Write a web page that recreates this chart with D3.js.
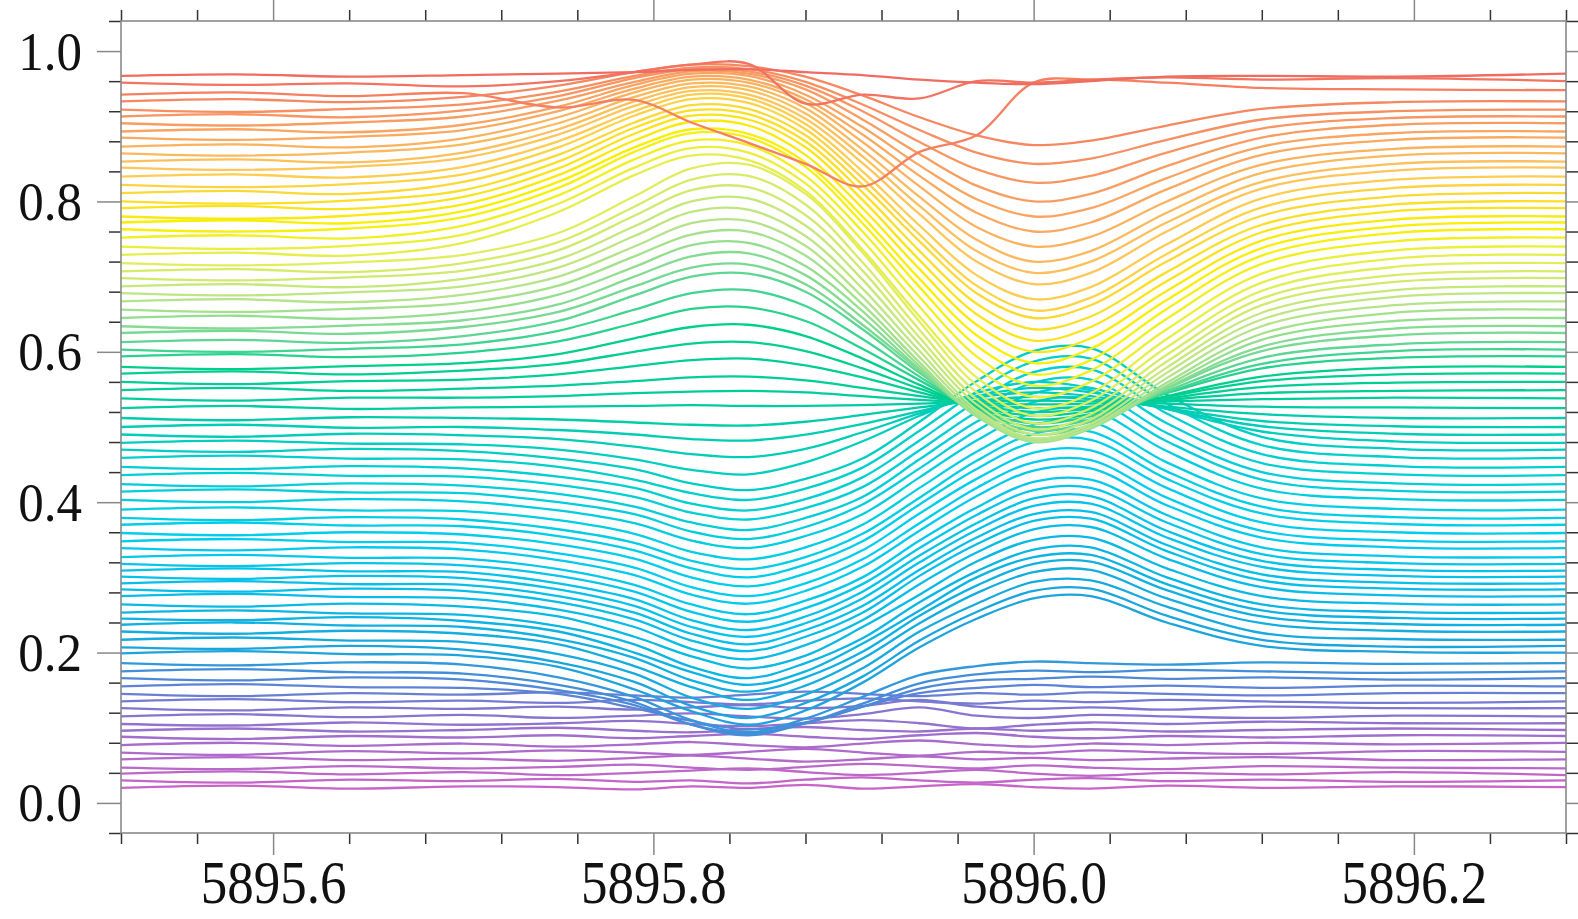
<!DOCTYPE html>
<html>
<head>
<meta charset="utf-8">
<script src="https://cdn.jsdelivr.net/npm/d3@7"></script>
<style>
  html, body { margin: 0; padding: 0; background: #fff; }
  svg { display: block; }
</style>
</head>
<body>
<svg id="chart" width="1578" height="919"></svg>
<script>
const waves = [5895.52, 5895.58, 5895.64, 5895.70, 5895.75, 5895.79, 5895.82, 5895.85, 5895.88,
               5895.91, 5895.94, 5895.97, 5896.00, 5896.03, 5896.07, 5896.12, 5896.19, 5896.28];

const xMajorTicks = [5895.6, 5895.8, 5896.0, 5896.2];
const xMinorTicks = [5895.52, 5895.56, 5895.64, 5895.68, 5895.72, 5895.76, 5895.84, 5895.88, 5895.92,
                     5895.96, 5896.04, 5896.08, 5896.12, 5896.16, 5896.24, 5896.28];
const yMajorTicks = [0, 0.2, 0.4, 0.6, 0.8, 1.0];
const yMinorTicks = [-0.04, 0.04, 0.08, 0.12, 0.16, 0.24, 0.28, 0.32, 0.36, 0.44, 0.48, 0.52, 0.56,
                     0.64, 0.68, 0.72, 0.76, 0.84, 0.88, 0.92, 0.96, 1.04];

// stacked spectra, bottom (purple) to top (red)
const purpleSpectra = [
  [0.020,0.023,0.019,0.022,0.021,0.018,0.022,0.020,0.024,0.019,0.022,0.025,0.021,0.019,0.023,0.020,0.022,0.021],
  [0.030,0.027,0.031,0.029,0.032,0.028,0.030,0.026,0.031,0.034,0.030,0.027,0.031,0.033,0.029,0.031,0.028,0.030],
  [0.039,0.042,0.038,0.041,0.037,0.040,0.043,0.046,0.041,0.037,0.040,0.044,0.039,0.036,0.040,0.038,0.041,0.037],
  [0.047,0.045,0.049,0.046,0.048,0.051,0.047,0.044,0.048,0.052,0.049,0.046,0.050,0.047,0.045,0.049,0.047,0.046],
  [0.058,0.061,0.057,0.059,0.056,0.060,0.063,0.059,0.055,0.058,0.062,0.058,0.060,0.057,0.059,0.061,0.057,0.058],
  [0.067,0.064,0.069,0.066,0.070,0.067,0.064,0.068,0.072,0.067,0.063,0.068,0.066,0.070,0.067,0.065,0.069,0.068],
  [0.077,0.080,0.076,0.079,0.075,0.078,0.081,0.077,0.074,0.079,0.083,0.078,0.075,0.079,0.077,0.080,0.078,0.080],
  [0.088,0.085,0.089,0.087,0.090,0.086,0.089,0.092,0.088,0.085,0.090,0.093,0.088,0.086,0.089,0.087,0.090,0.089],
  [0.096,0.099,0.095,0.097,0.100,0.096,0.094,0.098,0.101,0.097,0.095,0.099,0.096,0.098,0.095,0.097,0.099,0.097],
  [0.105,0.103,0.107,0.104,0.106,0.109,0.105,0.102,0.106,0.110,0.106,0.099,0.104,0.107,0.105,0.108,0.106,0.106],
  [0.115,0.118,0.114,0.117,0.113,0.116,0.119,0.115,0.112,0.118,0.127,0.116,0.113,0.117,0.115,0.113,0.116,0.115],
  [0.126,0.123,0.127,0.125,0.128,0.124,0.127,0.130,0.126,0.129,0.137,0.128,0.125,0.127,0.124,0.128,0.126,0.126],
  [0.135,0.138,0.134,0.136,0.133,0.137,0.134,0.131,0.136,0.139,0.135,0.132,0.136,0.134,0.137,0.135,0.133,0.135],
  [0.145,0.142,0.146,0.144,0.147,0.143,0.140,0.144,0.148,0.145,0.142,0.146,0.144,0.147,0.145,0.143,0.146,0.146]
];

const blueSpectra = [
  [0.155,0.158,0.154,0.153,0.145,0.126,0.109,0.098,0.107,0.128,0.146,0.153,0.157,0.154,0.156,0.153,0.156,0.155],
  [0.166,0.163,0.167,0.164,0.150,0.130,0.104,0.092,0.106,0.128,0.152,0.163,0.165,0.168,0.165,0.167,0.164,0.166],
  [0.175,0.178,0.174,0.172,0.157,0.134,0.104,0.090,0.106,0.132,0.159,0.171,0.176,0.174,0.177,0.175,0.173,0.175],
  [0.186,0.183,0.187,0.184,0.167,0.141,0.110,0.094,0.112,0.141,0.170,0.182,0.188,0.186,0.184,0.187,0.185,0.186]
];

const cyanSpectra = [
  [0.199,0.202,0.198,0.196,0.181,0.151,0.122,0.104,0.123,0.160,0.207,0.245,0.272,0.275,0.240,0.209,0.201,0.200],
  [0.207,0.205,0.209,0.204,0.187,0.161,0.129,0.113,0.133,0.168,0.216,0.254,0.282,0.285,0.249,0.217,0.208,0.209],
  [0.217,0.220,0.216,0.214,0.198,0.172,0.140,0.125,0.144,0.179,0.228,0.265,0.294,0.296,0.261,0.226,0.218,0.217],
  [0.228,0.225,0.229,0.225,0.211,0.182,0.154,0.137,0.156,0.192,0.239,0.279,0.307,0.310,0.272,0.239,0.229,0.228],
  [0.237,0.240,0.236,0.234,0.218,0.193,0.163,0.148,0.167,0.201,0.249,0.289,0.318,0.321,0.283,0.248,0.238,0.237],
  [0.245,0.243,0.247,0.242,0.228,0.200,0.174,0.157,0.175,0.212,0.256,0.300,0.327,0.330,0.291,0.256,0.246,0.245],
  [0.253,0.256,0.252,0.250,0.235,0.211,0.181,0.166,0.186,0.219,0.267,0.308,0.337,0.340,0.300,0.264,0.254,0.253],
  [0.264,0.261,0.265,0.261,0.248,0.221,0.195,0.179,0.196,0.234,0.277,0.321,0.350,0.353,0.312,0.275,0.265,0.264],
  [0.275,0.278,0.274,0.272,0.257,0.234,0.205,0.191,0.210,0.243,0.291,0.333,0.364,0.367,0.325,0.287,0.276,0.275],
  [0.284,0.281,0.285,0.282,0.267,0.244,0.216,0.202,0.221,0.253,0.302,0.344,0.375,0.378,0.335,0.296,0.285,0.284],
  [0.292,0.295,0.291,0.290,0.275,0.253,0.225,0.211,0.230,0.262,0.310,0.353,0.384,0.387,0.343,0.304,0.293,0.292],
  [0.301,0.298,0.302,0.299,0.284,0.262,0.234,0.221,0.239,0.272,0.320,0.363,0.395,0.398,0.353,0.314,0.302,0.301],
  [0.309,0.312,0.308,0.307,0.292,0.271,0.243,0.230,0.248,0.281,0.329,0.372,0.405,0.408,0.362,0.322,0.310,0.309],
  [0.318,0.315,0.319,0.316,0.302,0.281,0.254,0.241,0.259,0.291,0.339,0.383,0.416,0.419,0.373,0.331,0.319,0.318],
  [0.327,0.330,0.326,0.325,0.311,0.290,0.264,0.251,0.269,0.300,0.349,0.393,0.427,0.430,0.383,0.340,0.328,0.327],
  [0.339,0.336,0.340,0.337,0.323,0.303,0.277,0.265,0.282,0.314,0.362,0.408,0.442,0.445,0.396,0.353,0.340,0.339],
  [0.348,0.351,0.347,0.346,0.332,0.313,0.287,0.275,0.292,0.324,0.372,0.419,0.453,0.456,0.406,0.362,0.349,0.348],
  [0.359,0.356,0.360,0.357,0.344,0.325,0.300,0.288,0.305,0.336,0.385,0.431,0.466,0.469,0.419,0.373,0.360,0.359],
  [0.370,0.373,0.369,0.368,0.355,0.336,0.312,0.300,0.317,0.348,0.397,0.444,0.480,0.483,0.431,0.385,0.371,0.370],
  [0.379,0.376,0.380,0.377,0.364,0.346,0.322,0.311,0.327,0.358,0.406,0.455,0.491,0.494,0.441,0.394,0.380,0.379],
  [0.390,0.393,0.389,0.388,0.376,0.358,0.334,0.324,0.340,0.370,0.419,0.467,0.503,0.507,0.453,0.405,0.391,0.390],
  [0.403,0.400,0.404,0.401,0.389,0.372,0.349,0.339,0.355,0.384,0.433,0.482,0.519,0.523,0.468,0.418,0.404,0.403],
  [0.414,0.417,0.413,0.412,0.400,0.384,0.361,0.351,0.367,0.397,0.445,0.495,0.533,0.537,0.481,0.430,0.415,0.414],
  [0.424,0.421,0.425,0.422,0.411,0.394,0.373,0.363,0.379,0.407,0.457,0.507,0.545,0.549,0.492,0.440,0.425,0.424],
  [0.436,0.439,0.435,0.434,0.423,0.407,0.386,0.377,0.392,0.420,0.469,0.520,0.559,0.563,0.505,0.452,0.437,0.436],
  [0.447,0.444,0.448,0.445,0.434,0.419,0.398,0.389,0.404,0.433,0.482,0.534,0.573,0.577,0.518,0.464,0.448,0.447],
  [0.459,0.462,0.458,0.457,0.447,0.430,0.412,0.403,0.418,0.446,0.495,0.547,0.587,0.591,0.531,0.476,0.460,0.459],
  [0.470,0.467,0.471,0.468,0.458,0.444,0.425,0.416,0.431,0.458,0.507,0.561,0.601,0.605,0.543,0.487,0.471,0.470]
];

const greenSpectra = [
  [0.479,0.482,0.478,0.477,0.470,0.457,0.443,0.437,0.453,0.481,0.515,0.545,0.560,0.552,0.524,0.494,0.481,0.479],
  [0.490,0.487,0.491,0.489,0.484,0.474,0.464,0.460,0.471,0.493,0.518,0.541,0.552,0.546,0.524,0.501,0.491,0.490],
  [0.500,0.503,0.499,0.500,0.496,0.490,0.484,0.482,0.490,0.504,0.521,0.539,0.546,0.541,0.525,0.508,0.501,0.500],
  [0.512,0.509,0.513,0.512,0.510,0.506,0.503,0.502,0.507,0.516,0.526,0.535,0.540,0.537,0.527,0.517,0.512,0.512],
  [0.525,0.528,0.524,0.526,0.527,0.528,0.529,0.528,0.528,0.529,0.531,0.534,0.535,0.534,0.531,0.527,0.526,0.525],
  [0.538,0.535,0.539,0.539,0.541,0.545,0.547,0.548,0.546,0.541,0.536,0.532,0.530,0.531,0.534,0.537,0.539,0.538],
  [0.549,0.552,0.548,0.551,0.555,0.561,0.566,0.567,0.562,0.552,0.541,0.531,0.525,0.527,0.536,0.545,0.548,0.549],
  [0.560,0.557,0.561,0.563,0.570,0.581,0.589,0.591,0.582,0.566,0.546,0.529,0.520,0.524,0.538,0.553,0.559,0.560],
  [0.571,0.574,0.570,0.575,0.584,0.600,0.611,0.613,0.601,0.578,0.551,0.527,0.515,0.521,0.540,0.561,0.570,0.571],
  [0.580,0.577,0.581,0.585,0.597,0.618,0.633,0.636,0.621,0.591,0.556,0.525,0.510,0.517,0.541,0.567,0.579,0.580],
  [0.594,0.597,0.593,0.599,0.614,0.638,0.657,0.659,0.641,0.604,0.562,0.523,0.505,0.514,0.545,0.578,0.592,0.594],
  [0.603,0.600,0.604,0.610,0.628,0.656,0.678,0.682,0.661,0.617,0.567,0.522,0.500,0.510,0.546,0.584,0.601,0.603],
  [0.613,0.616,0.612,0.621,0.641,0.675,0.700,0.704,0.680,0.630,0.572,0.521,0.495,0.507,0.548,0.592,0.610,0.613]
];

const limeSpectra = [
  [0.625,0.628,0.624,0.633,0.653,0.687,0.712,0.716,0.690,0.636,0.575,0.518,0.490,0.503,0.551,0.601,0.622,0.625],
  [0.634,0.631,0.635,0.642,0.663,0.700,0.727,0.731,0.702,0.645,0.577,0.515,0.485,0.500,0.552,0.607,0.631,0.634],
  [0.645,0.648,0.644,0.653,0.676,0.713,0.742,0.745,0.714,0.654,0.581,0.514,0.482,0.498,0.555,0.616,0.641,0.645],
  [0.656,0.653,0.657,0.665,0.688,0.727,0.756,0.760,0.728,0.663,0.586,0.515,0.480,0.498,0.559,0.624,0.652,0.656],
  [0.667,0.670,0.666,0.676,0.700,0.740,0.771,0.774,0.741,0.673,0.593,0.519,0.482,0.500,0.565,0.634,0.662,0.667],
  [0.678,0.675,0.679,0.687,0.712,0.754,0.786,0.789,0.754,0.684,0.601,0.523,0.485,0.504,0.572,0.643,0.673,0.678],
  [0.687,0.690,0.686,0.697,0.723,0.767,0.800,0.804,0.768,0.696,0.610,0.530,0.490,0.510,0.579,0.652,0.682,0.687],
  [0.698,0.695,0.699,0.708,0.735,0.781,0.815,0.819,0.782,0.708,0.619,0.537,0.497,0.517,0.587,0.662,0.693,0.698],
  [0.707,0.710,0.706,0.718,0.746,0.793,0.829,0.834,0.796,0.719,0.629,0.546,0.505,0.525,0.596,0.671,0.702,0.707],
  [0.718,0.715,0.719,0.729,0.758,0.807,0.844,0.849,0.810,0.732,0.640,0.556,0.515,0.535,0.606,0.681,0.713,0.718]
];

const yellowSpectra = [
  [0.729,0.732,0.728,0.745,0.786,0.835,0.861,0.855,0.814,0.736,0.647,0.566,0.525,0.545,0.617,0.692,0.724,0.729],
  [0.740,0.737,0.741,0.756,0.797,0.845,0.871,0.865,0.824,0.748,0.660,0.579,0.540,0.560,0.630,0.704,0.735,0.740],
  [0.752,0.755,0.751,0.768,0.808,0.856,0.881,0.875,0.834,0.760,0.673,0.594,0.555,0.575,0.644,0.717,0.747,0.752],
  [0.763,0.760,0.764,0.779,0.818,0.866,0.891,0.885,0.846,0.771,0.686,0.608,0.570,0.589,0.657,0.728,0.758,0.763],
  [0.772,0.775,0.771,0.787,0.826,0.872,0.896,0.890,0.852,0.780,0.697,0.622,0.585,0.604,0.669,0.738,0.767,0.772],
  [0.780,0.777,0.781,0.796,0.835,0.881,0.906,0.901,0.862,0.791,0.710,0.636,0.600,0.618,0.681,0.748,0.776,0.780],
  [0.791,0.794,0.790,0.806,0.844,0.890,0.914,0.909,0.872,0.802,0.722,0.650,0.615,0.633,0.694,0.759,0.787,0.791],
  [0.800,0.797,0.801,0.815,0.853,0.898,0.921,0.916,0.880,0.812,0.734,0.664,0.630,0.647,0.706,0.769,0.796,0.800],
  [0.811,0.814,0.810,0.826,0.862,0.905,0.928,0.923,0.888,0.822,0.747,0.678,0.645,0.662,0.720,0.781,0.807,0.811],
  [0.822,0.819,0.823,0.836,0.872,0.914,0.936,0.931,0.896,0.831,0.756,0.688,0.655,0.672,0.730,0.792,0.818,0.822]
];

const orangeSpectra = [
  [0.833,0.836,0.832,0.846,0.880,0.920,0.942,0.937,0.903,0.840,0.768,0.702,0.670,0.686,0.743,0.804,0.829,0.833],
  [0.845,0.842,0.846,0.858,0.889,0.927,0.947,0.942,0.910,0.851,0.783,0.720,0.690,0.705,0.760,0.817,0.841,0.845],
  [0.853,0.856,0.852,0.865,0.896,0.933,0.952,0.948,0.917,0.860,0.794,0.734,0.705,0.720,0.772,0.826,0.850,0.853],
  [0.864,0.861,0.865,0.876,0.904,0.939,0.957,0.953,0.924,0.869,0.806,0.749,0.720,0.734,0.785,0.838,0.861,0.864],
  [0.873,0.876,0.872,0.884,0.912,0.945,0.962,0.958,0.931,0.879,0.820,0.766,0.740,0.753,0.800,0.849,0.870,0.873],
  [0.885,0.882,0.886,0.895,0.920,0.950,0.966,0.962,0.936,0.889,0.834,0.785,0.760,0.772,0.816,0.862,0.882,0.885],
  [0.893,0.896,0.892,0.902,0.926,0.955,0.970,0.967,0.942,0.899,0.848,0.803,0.780,0.791,0.831,0.873,0.891,0.893],
  [0.904,0.901,0.905,0.913,0.934,0.959,0.973,0.970,0.949,0.909,0.863,0.821,0.800,0.810,0.847,0.885,0.902,0.904],
  [0.913,0.916,0.912,0.921,0.940,0.964,0.976,0.973,0.954,0.920,0.879,0.843,0.825,0.834,0.865,0.897,0.911,0.913],
  [0.922,0.919,0.923,0.929,0.946,0.967,0.978,0.976,0.959,0.929,0.895,0.865,0.850,0.857,0.882,0.909,0.920,0.922],
  [0.933,0.936,0.932,0.939,0.954,0.972,0.982,0.980,0.966,0.941,0.912,0.888,0.875,0.881,0.901,0.923,0.932,0.933]
];

const redSpectra = [
  [0.942,0.945,0.940,0.944,0.925,0.935,0.905,0.878,0.850,0.820,0.866,0.888,0.958,0.962,0.958,0.951,0.949,0.948],
  [0.958,0.955,0.957,0.953,0.960,0.972,0.982,0.983,0.930,0.942,0.937,0.960,0.958,0.962,0.965,0.962,0.964,0.960],
  [0.967,0.969,0.966,0.968,0.970,0.972,0.975,0.976,0.972,0.968,0.962,0.958,0.956,0.960,0.966,0.967,0.966,0.970]
];

// colour ramp keyed on each spectrum's continuum level
const colourLevels = [0.02, 0.08, 0.13, 0.17, 0.20, 0.26, 0.35, 0.45, 0.52, 0.58, 0.62, 0.67, 0.72, 0.77, 0.84, 0.90, 0.97];
const colourRamp = ['#c864c8', '#a86ccc', '#7c78d2', '#4a8ad8', '#1ca4dc', '#08b8e4', '#00cdee', '#00cfd0',
                    '#00cca6', '#00cf8c', '#70d894', '#b8e48a', '#e2ee5c', '#f8f000', '#fcc95a', '#f9a062', '#f06a60'];

const svg = d3.select('#chart');
const frame = { left: 121, right: 1566, top: 21, bottom: 833 };

const x = d3.scaleLinear().domain([5895.52, 5896.28]).range([frame.left, frame.right]);
const y = d3.scaleLinear().domain([-0.04, 1.04]).range([frame.bottom, frame.top]);
const colour = d3.scaleLinear().domain(colourLevels).range(colourRamp).interpolate(d3.interpolateRgb).clamp(true);

svg.append('defs').append('clipPath').attr('id', 'plot-clip')
  .append('rect')
  .attr('x', frame.left).attr('y', frame.top)
  .attr('width', frame.right - frame.left).attr('height', frame.bottom - frame.top);

const spectra = [].concat(purpleSpectra, blueSpectra, cyanSpectra, greenSpectra,
                          limeSpectra, yellowSpectra, orangeSpectra, redSpectra);

const line = d3.line()
  .x((d, i) => x(waves[i]))
  .y(d => y(d))
  .curve(d3.curveCatmullRom.alpha(0.5));

svg.append('g')
  .attr('clip-path', 'url(#plot-clip)')
  .selectAll('path')
  .data(spectra)
  .join('path')
  .attr('d', line)
  .attr('fill', 'none')
  .attr('stroke', d => colour(d[0]))
  .attr('stroke-width', 2.3)
  .attr('stroke-linejoin', 'round')
  .attr('stroke-linecap', 'round');

// 轴: 主刻度灰色, 次刻度深色, 全部朝外
const fmt = d3.format('.1f');
function styleAxis(g, colour) {
  g.select('.domain').remove();
  g.selectAll('.tick line').attr('stroke', colour).attr('stroke-width', 1.5);
  g.attr('font-family', "'Liberation Serif', 'Times New Roman', serif");
  g.selectAll('.tick text').attr('fill', '#111');
}

// bottom
svg.append('g').attr('transform', `translate(0,${frame.bottom})`)
  .call(d3.axisBottom(x).tickValues(xMinorTicks).tickSize(11).tickSizeOuter(0).tickFormat(''))
  .call(g => styleAxis(g, '#333'));
svg.append('g').attr('transform', `translate(0,${frame.bottom})`)
  .call(d3.axisBottom(x).tickValues(xMajorTicks).tickSize(22).tickSizeOuter(0).tickFormat(fmt))
  .call(g => styleAxis(g, '#888'))
  .attr('font-size', 53)
  .call(g => g.selectAll('.tick text')        // 标签略微纵向拉伸, 与原图一致
    .attr('dy', null).attr('y', 60.5).attr('transform', 'scale(1,1.15)'));
// top
svg.append('g').attr('transform', `translate(0,${frame.top})`)
  .call(d3.axisTop(x).tickValues(xMinorTicks).tickSize(11).tickSizeOuter(0).tickFormat(''))
  .call(g => styleAxis(g, '#333'));
svg.append('g').attr('transform', `translate(0,${frame.top})`)
  .call(d3.axisTop(x).tickValues(xMajorTicks).tickSize(22).tickSizeOuter(0).tickFormat(''))
  .call(g => styleAxis(g, '#888'));
// left
svg.append('g').attr('transform', `translate(${frame.left},0)`)
  .call(d3.axisLeft(y).tickValues(yMinorTicks).tickSize(12).tickSizeOuter(0).tickFormat(''))
  .call(g => styleAxis(g, '#333'));
svg.append('g').attr('transform', `translate(${frame.left},0)`)
  .call(d3.axisLeft(y).tickValues(yMajorTicks).tickSize(24).tickPadding(15).tickSizeOuter(0).tickFormat(fmt))
  .call(g => styleAxis(g, '#888'))
  .attr('font-size', 51)
  .call(g => g.selectAll('.tick text')
    .attr('dy', null).attr('y', 16.7).attr('transform', 'scale(1,1.08)'));
// right
svg.append('g').attr('transform', `translate(${frame.right},0)`)
  .call(d3.axisRight(y).tickValues(yMinorTicks).tickSize(12).tickSizeOuter(0).tickFormat(''))
  .call(g => styleAxis(g, '#333'));
svg.append('g').attr('transform', `translate(${frame.right},0)`)
  .call(d3.axisRight(y).tickValues(yMajorTicks).tickSize(24).tickSizeOuter(0).tickFormat(''))
  .call(g => styleAxis(g, '#888'));

// frame
svg.append('rect')
  .attr('x', frame.left).attr('y', frame.top)
  .attr('width', frame.right - frame.left).attr('height', frame.bottom - frame.top)
  .attr('fill', 'none')
  .attr('stroke', '#8a8a8a')
  .attr('stroke-width', 1.6);
</script>
</body>
</html>
